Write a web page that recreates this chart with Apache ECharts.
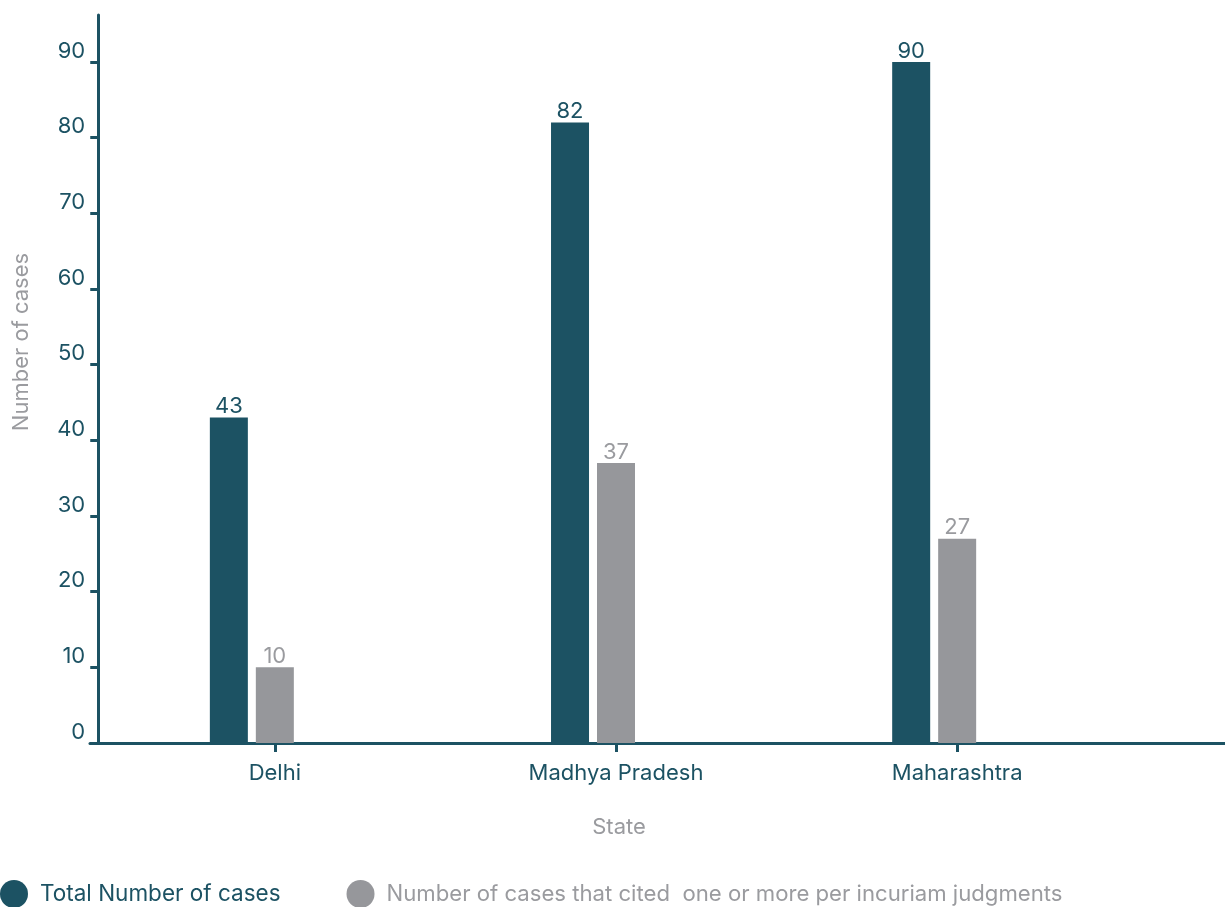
<!DOCTYPE html>
<html>
<head>
<meta charset="utf-8">
<script src="https://cdn.jsdelivr.net/npm/echarts@6/dist/echarts.min.js"></script>
<style>
html,body{margin:0;padding:0;background:#fff;}
#chart{width:1225px;height:907px;}
</style>
</head>
<body>
<div id="chart"></div>
<script>
const categories = ['Delhi', 'Madhya Pradesh', 'Maharashtra'];
const totalCases = [43, 82, 90];
const perIncuriamCases = [10, 37, 27];
const yTicks = [0, 10, 20, 30, 40, 50, 60, 70, 80, 90];
const seriesNames = ['Total Number of cases', 'Number of cases that cited  one or more per incuriam judgments'];

const TEAL = '#1c5263';
const GREY = '#96979b';
const GREY_TEXT = '#9a9b9f';
const FONT = 'Inter';
const FS = 22;

const chart = echarts.init(document.getElementById('chart'), null, {renderer: 'canvas'});
chart.setOption({
  animation: false,
  textStyle: {fontFamily: FONT},
  grid: [
    {left: 104.25, right: 97.25, top: 15, bottom: 164},
    {left: 90, right: 0, top: 15, bottom: 164}
  ],
  legend: {
    left: 0, top: 880, padding: 0,
    icon: 'circle', itemWidth: 28, itemHeight: 28, itemGap: 66,
    selectedMode: false,
    textStyle: {fontFamily: FONT, fontSize: 22.5, padding: [0, 0, 0, 7]},
    data: [
      {name: seriesNames[0], textStyle: {color: TEAL, fontSize: 22.5}},
      {name: seriesNames[1], textStyle: {color: GREY_TEXT, fontSize: 22.15}}
    ]
  },
  xAxis: [
    {
      type: 'category', gridIndex: 0, data: categories,
      axisLine: {show: false},
      axisTick: {show: true, alignWithLabel: true, length: 9, lineStyle: {color: TEAL, width: 3}},
      axisLabel: {color: TEAL, fontSize: FS, fontFamily: FONT, margin: 19},
      name: 'State', nameLocation: 'middle', nameGap: 73,
      nameTextStyle: {color: GREY_TEXT, fontSize: FS, fontFamily: FONT, padding: [0, 0, 0, 6]}
    },
    {
      type: 'value', gridIndex: 1, min: 0, max: 1,
      axisLine: {show: true, lineStyle: {color: TEAL, width: 3}},
      axisTick: {show: false}, axisLabel: {show: false}, splitLine: {show: false}
    }
  ],
  yAxis: [
    {
      type: 'value', gridIndex: 0, min: 0, max: 96.2, offset: 6,
      axisLine: {show: true, lineStyle: {color: TEAL, width: 3}},
      axisTick: {show: true, length: 8, lineStyle: {color: TEAL, width: 3}, customValues: yTicks},
      axisLabel: {color: TEAL, fontSize: FS, fontFamily: FONT, margin: 13, verticalAlign: 'bottom', customValues: yTicks},
      splitLine: {show: false},
      name: 'Number of cases', nameLocation: 'middle', nameGap: 66, nameRotate: 90,
      nameTextStyle: {color: GREY_TEXT, fontSize: FS, fontFamily: FONT, padding: [0, 0, 0, 74]}
    },
    {
      type: 'value', gridIndex: 1, show: false
    }
  ],
  series: [
    {
      name: seriesNames[0], type: 'bar', xAxisIndex: 0, yAxisIndex: 0,
      data: totalCases, barWidth: 38, barGap: '21%',
      itemStyle: {color: TEAL},
      label: {show: true, position: 'top', distance: 0, color: TEAL, fontSize: FS, fontFamily: FONT}
    },
    {
      name: seriesNames[1], type: 'bar', xAxisIndex: 0, yAxisIndex: 0,
      data: perIncuriamCases, barWidth: 38, barGap: '21%',
      itemStyle: {color: GREY},
      label: {show: true, position: 'top', distance: 0, color: GREY_TEXT, fontSize: FS, fontFamily: FONT}
    },
    {
      name: 'spacer', type: 'bar', xAxisIndex: 0, yAxisIndex: 0,
      data: ['-', '-', '-'], barWidth: 38, barGap: '21%',
      itemStyle: {color: 'transparent'}, silent: true
    }
  ]
});
</script>
</body>
</html>
